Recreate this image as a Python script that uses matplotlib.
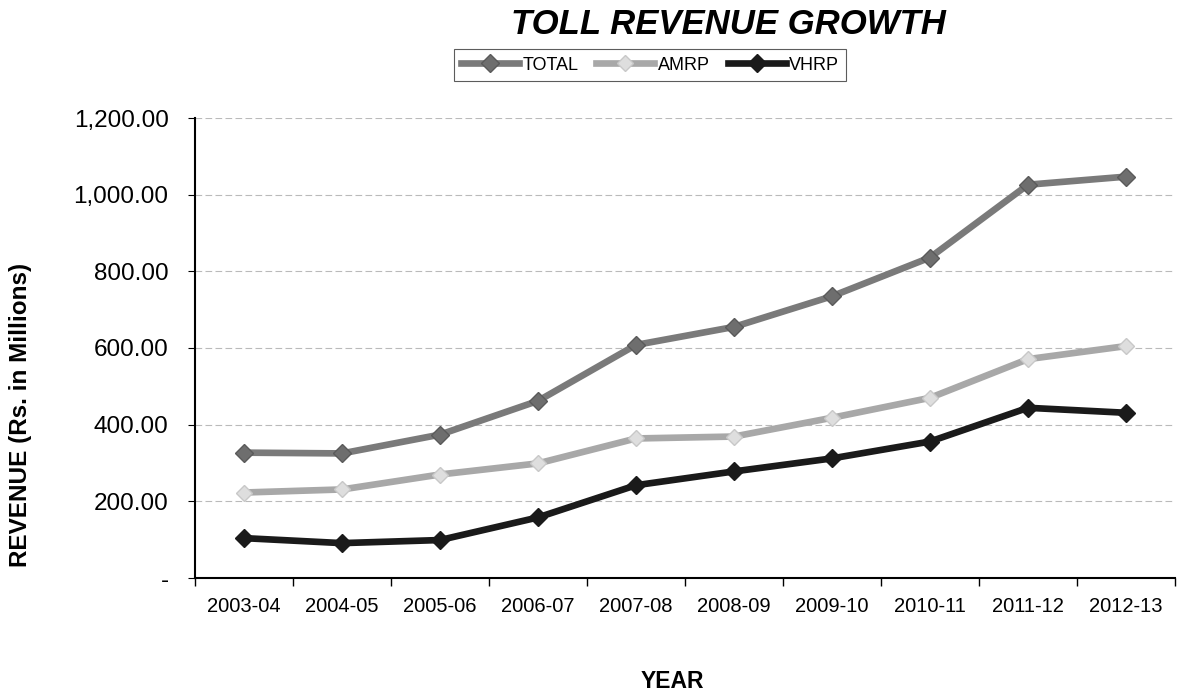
import numpy as np
import matplotlib
matplotlib.use('Agg')
from matplotlib import pyplot as plt
from matplotlib.ticker import FuncFormatter, MultipleLocator, FixedLocator

years = ['2003-04', '2004-05', '2005-06', '2006-07', '2007-08',
         '2008-09', '2009-10', '2010-11', '2011-12', '2012-13']
total = [327, 325, 374, 462, 608, 655, 735, 836, 1026, 1047]
amrp = [223, 231, 270, 299, 364, 369, 418, 470, 571, 605]
vhrp = [104, 91, 99, 158, 242, 278, 312, 356, 444, 431]

plt.rcParams['font.family'] = ['Liberation Sans', 'DejaVu Sans']

fig = plt.figure(figsize=(11.8, 6.93), dpi=100)
ax = fig.add_axes([195/1180, 115/693, 980/1180, 460/693])

x = np.arange(len(years))
ax.plot(x, total, color='#7a7a7a', lw=4.8, marker='D', ms=9,
        mfc='#6e6e6e', mec='#5a5a5a', label='TOTAL', zorder=3)
ax.plot(x, amrp, color='#a8a8a8', lw=4.8, marker='D', ms=8,
        mfc='#dedede', mec='#c8c8c8', label='AMRP', zorder=3)
ax.plot(x, vhrp, color='#1a1a1a', lw=4.8, marker='D', ms=9,
        mfc='#1a1a1a', mec='#1a1a1a', label='VHRP', zorder=3)

ax.set_xlim(-0.5, len(years) - 0.5)
ax.set_ylim(0, 1200)
ax.yaxis.set_major_locator(MultipleLocator(200))
ax.yaxis.set_major_formatter(FuncFormatter(lambda v, p: '-' if v == 0 else f'{v:,.2f}'))
ax.grid(axis='y', color='#777777', lw=0.8, ls=(0, (6, 3)), alpha=0.5)
ax.set_axisbelow(True)

ax.set_xticks(x)
ax.set_xticklabels(years)
ax.tick_params(axis='x', which='major', length=0, pad=14, labelsize=14.5)
ax.xaxis.set_minor_locator(FixedLocator(np.arange(-0.5, len(years), 1.0)))
ax.tick_params(axis='x', which='minor', length=6, direction='out', width=1)
ax.tick_params(axis='y', length=5, direction='out', labelsize=17.5, pad=14)

for s in ['top', 'right']:
    ax.spines[s].set_visible(False)
ax.spines['left'].set_linewidth(1.5)
ax.spines['bottom'].set_linewidth(1.5)

ax.set_ylabel('REVENUE (Rs. in Millions)', fontsize=17.5, fontweight='bold')
ax.yaxis.set_label_coords(-163/980, 0.354)
fig.text(672/1180, 1 - 681/693, 'YEAR', fontsize=16.5, fontweight='bold',
         ha='center', va='center')

fig.text(728/1180, 1 - 24/693, 'TOLL REVENUE GROWTH', fontsize=25,
         fontweight='bold', fontstyle='italic', ha='center', va='center')

leg = fig.legend(loc='center', bbox_to_anchor=(650/1180, 1 - 65/693), ncol=3,
                 frameon=True, fancybox=False, edgecolor='#333333',
                 fontsize=13, handlelength=3.2, handletextpad=0.2,
                 columnspacing=1.0, borderpad=0.4)
leg.get_frame().set_linewidth(0.8)

fig.savefig('out.png', dpi=100, facecolor='white')
